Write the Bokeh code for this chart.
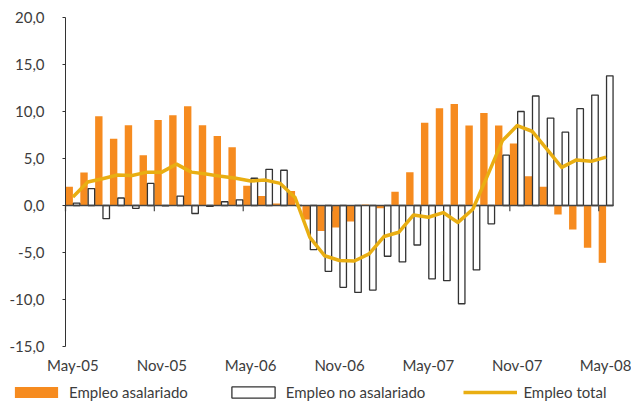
from bokeh.plotting import figure
from bokeh.models import FixedTicker, Legend, LegendItem, ColumnDataSource, Range1d
from bokeh.embed import file_html
from bokeh.resources import INLINE

# ---------------- data ----------------
month_abbr = ["Ene", "Feb", "Mar", "Abr", "May", "Jun", "Jul", "Ago", "Sep", "Oct", "Nov", "Dic"]
months = [f"{month_abbr[(4 + k) % 12]}-{5 + (4 + k) // 12:02d}" for k in range(37)]  # May-05 .. May-08
label_months = ["May-05", "Nov-05", "May-06", "Nov-06", "May-07", "Nov-07", "May-08"]

asalariado = [2.0, 3.5, 9.5, 7.1, 8.55, 5.35, 9.1, 9.6, 10.55, 8.55, 7.4, 6.2,
              2.1, 1.0, 0.2, 1.55, -1.5, -2.7, -2.35, -1.7, 0.1, -0.3, 1.45, 3.55,
              8.8, 10.35, 10.8, 8.5, 9.85, 8.5, 6.6, 3.1, 2.0, -0.95, -2.55, -4.5, -6.1]
no_asalariado = [0.25, 1.8, -1.4, 0.8, -0.3, 2.35, -0.05, 1.0, -0.85, -0.1, 0.4, 0.6,
                 2.9, 3.85, 3.75, 0.0, -4.7, -7.0, -8.7, -9.25, -9.0, -5.4, -6.0, -4.2,
                 -7.8, -8.0, -10.45, -6.85, -1.95, 5.35, 10.0, 11.65, 9.3, 7.8, 10.3, 11.75, 13.8]
total = [0.9, 2.5, 2.85, 3.25, 3.2, 3.55, 3.55, 4.4, 3.55, 3.35, 3.1, 2.9,
         2.6, 2.7, 2.35, 0.85, -3.4, -5.35, -5.85, -5.9, -5.15, -3.3, -2.85, -1.0,
         -1.25, -0.75, -1.8, -0.4, 3.2, 6.9, 8.5, 7.9, 6.0, 4.05, 4.85, 4.7, 5.15]
y_ticks = [-15, -10, -5, 0, 5, 10, 15, 20]

# ---------------- styles / layout ----------------
ORANGE = "#F68B1F"
GOLD = "#E9AE12"
DARK = "#333333"
TEXT = "#3c3c3c"
FONT = "Lato"
W, H = 631, 407
PLOT_L, PLOT_R, PLOT_T, PLOT_B = 65, 613, 17, 346   # pixel box of the data area

idx = list(range(len(months)))
x_lo, x_hi = idx[0] - 0.5, idx[-1] + 0.5
y_lo, y_hi = min(y_ticks), max(y_ticks)
sx = (PLOT_R - PLOT_L) / (x_hi - x_lo)
sy = (PLOT_B - PLOT_T) / (y_hi - y_lo)

src = ColumnDataSource(dict(
    x=idx,
    xa=[i - 0.25 for i in idx],
    xn=[i + 0.25 for i in idx],
    a=asalariado, n=no_asalariado, t=total,
))

p = figure(width=W, height=H, output_backend="svg", toolbar_location=None,
           x_range=Range1d(x_lo - PLOT_L / sx, x_hi + (W - PLOT_R) / sx),
           y_range=Range1d(y_lo - (H - PLOT_B) / sy, y_hi + PLOT_T / sy),
           min_border=0)
p.outline_line_color = None
p.grid.visible = False
p.background_fill_color = "white"
p.border_fill_color = "white"

r_a = p.vbar(x="xa", top="a", bottom=0, width=0.5, source=src,
             fill_color=ORANGE, line_color=None)
r_n = p.vbar(x="xn", top="n", bottom=0, width=0.44, source=src,
             fill_color="white", line_color=DARK, line_width=1.3)

# zero axis line with tick marks between groups
p.line(x=[x_lo, x_hi], y=[0, 0], line_color="#444444", line_width=1.5)
tick_pos = [i - 0.5 for i in idx if months[i] in label_months]
p.segment(x0=tick_pos, y0=[0] * len(tick_pos), x1=tick_pos, y1=[-0.6] * len(tick_pos),
          line_color="#555555", line_width=1.3)

r_t = p.line(x="x", y="t", source=src, line_color=GOLD, line_width=3.5, line_join="round")

# y axis, pinned at the left edge of the data area
yax = p.yaxis[0]
yax.fixed_location = x_lo
yax.bounds = (y_lo, y_hi)
yax.ticker = FixedTicker(ticks=y_ticks)
yax.major_label_overrides = {v: f"{v:.1f}".replace(".", ",") for v in y_ticks}
yax.axis_line_color = DARK
yax.major_tick_line_color = DARK
yax.major_tick_out = 3
yax.major_tick_in = 0
yax.minor_tick_line_color = None
yax.major_label_standoff = 18
yax.major_label_text_font = FONT
yax.major_label_text_font_size = "15px"
yax.major_label_text_color = TEXT

# x axis (labels only), pinned at the bottom of the data area
lab_idx = [i for i in idx if months[i] in label_months]
xax = p.xaxis[0]
xax.fixed_location = y_lo
xax.ticker = FixedTicker(ticks=lab_idx)
xax.major_label_overrides = {i: months[i] for i in lab_idx}
xax.axis_line_color = None
xax.major_tick_line_color = None
xax.minor_tick_line_color = None
xax.major_tick_out = 0
xax.major_label_standoff = 9
xax.major_label_text_font = FONT
xax.major_label_text_font_size = "15px"
xax.major_label_text_color = TEXT

legend = Legend(items=[LegendItem(label="Empleo asalariado", renderers=[r_a]),
                       LegendItem(label="Empleo no asalariado", renderers=[r_n]),
                       LegendItem(label="Empleo total", renderers=[r_t])],
                location=(9, 6), orientation="horizontal",
                glyph_width=54, glyph_height=14, label_standoff=6, spacing=38,
                padding=0, margin=0, border_line_color=None, background_fill_alpha=0,
                label_text_font=FONT, label_text_font_size="15px", label_text_color=TEXT)
p.add_layout(legend, "center")

open("out.html", "w").write(file_html(p, INLINE))
